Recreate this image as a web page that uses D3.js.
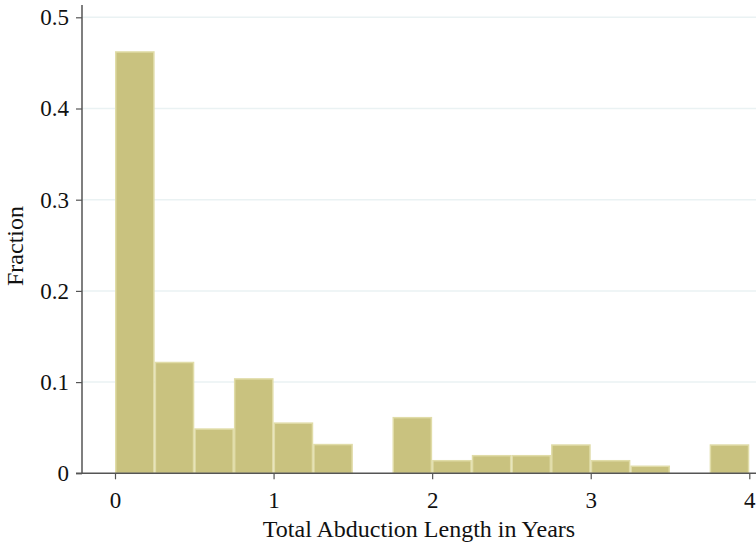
<!DOCTYPE html>
<html>
<head>
<meta charset="utf-8">
<script src="https://cdn.jsdelivr.net/npm/d3@7"></script>
<style>
html,body{margin:0;padding:0;background:#fff;}
svg{display:block;}
</style>
</head>
<body>
<svg id="chart" width="756" height="545"></svg>
<script>
const binStarts = [0,0.25,0.5,0.75,1,1.25,1.5,1.75,2,2.25,2.5,2.75,3,3.25,3.5,3.75];
const binWidth = 0.25;
const fractions = [0.462,0.1215,0.0485,0.1035,0.055,0.0315,0,0.061,0.0138,0.0193,0.0193,0.031,0.0138,0.0077,0,0.031];
const xTicks = [0,1,2,3,4];
const yTicks = [0,0.1,0.2,0.3,0.4,0.5];
const xTitle = "Total Abduction Length in Years";
const yTitle = "Fraction";

const FONT = "'Liberation Serif','Times New Roman',serif";
const svg = d3.select("#chart");
const x = d3.scaleLinear().domain([0,4]).range([115,749.3]);
const y = d3.scaleLinear().domain([0,0.5]).range([473.3,17.3]);
const axisLeft = 82;

// gridlines
svg.append("g").selectAll("line").data(yTicks.filter(d=>d>0)).join("line")
  .attr("x1",axisLeft).attr("x2",756)
  .attr("y1",d=>y(d)).attr("y2",d=>y(d))
  .attr("stroke","#eaf2f3").attr("stroke-width",1.5);

// bars
svg.append("g").selectAll("rect").data(binStarts.map((s,i)=>({s,v:fractions[i]})).filter(d=>d.v>0)).join("rect")
  .attr("x",d=>x(d.s)+0.75)
  .attr("width",d=>x(d.s+binWidth)-x(d.s)-1.5)
  .attr("y",d=>y(d.v))
  .attr("height",d=>y(0)-y(d.v))
  .attr("fill","#c9c27f")
  .attr("stroke","#e0dca8")
  .attr("stroke-width",1.5);

// y axis
const ya = svg.append("g").attr("transform",`translate(${axisLeft},0)`)
  .call(d3.axisLeft(y).tickValues(yTicks).tickFormat(d=>d===0?"0":d3.format(".1f")(d)).tickSize(6).tickPadding(7));
ya.select(".domain").attr("d",`M0,5V${y(0)}`).attr("stroke","#555").attr("stroke-width",1.5);
ya.selectAll(".tick line").attr("stroke","#555").attr("stroke-width",1.2);
ya.selectAll(".tick text").attr("font-family",FONT).attr("font-size",23).attr("fill","#111");

// x axis
const xa = svg.append("g").attr("transform",`translate(0,${y(0)})`)
  .call(d3.axisBottom(x).tickValues(xTicks).tickFormat(d3.format("d")).tickSize(6).tickPadding(12));
xa.select(".domain").attr("d",`M${axisLeft-6},0H756`).attr("stroke","#555").attr("stroke-width",1.5);
xa.selectAll(".tick line").attr("stroke","#555").attr("stroke-width",1.2);
xa.selectAll(".tick text").attr("font-family",FONT).attr("font-size",23).attr("fill","#111");

// titles
svg.append("text").attr("x",419).attr("y",537).attr("text-anchor","middle")
  .attr("font-family",FONT).attr("font-size",24).attr("fill","#111").text(xTitle);
svg.append("text").attr("transform",`translate(23,246) rotate(-90)`).attr("text-anchor","middle")
  .attr("font-family",FONT).attr("font-size",24).attr("fill","#111").text(yTitle);
</script>
</body>
</html>
